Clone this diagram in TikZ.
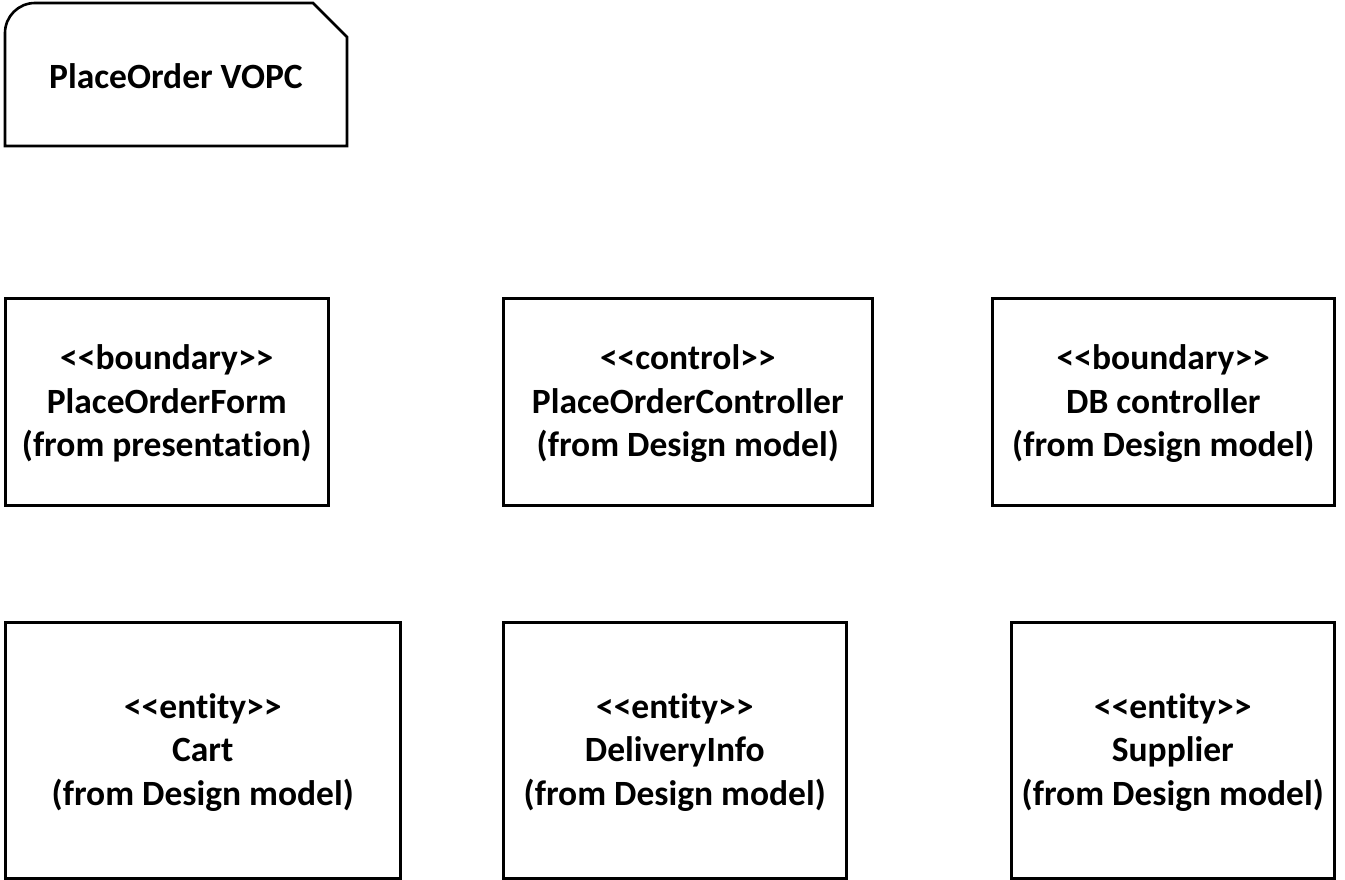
\documentclass[tikz,border=0pt]{standalone}
\usepackage{fontspec}
\setmainfont{Carlito}[RawFeature={-liga;-clig;-calt;-dlig;-rlig}]
\newcommand{\tii}{t\kern0pt i}
\begin{document}
\begin{tikzpicture}[x=1pt,y=-1pt,
  lw/.style={line width=2.6pt, draw=black},
  cls/.style={lw, rectangle, anchor=north west, inner sep=0pt},
  txt/.style={align=center, font=\fontsize{35.5}{43.5}\selectfont\bfseries, yshift=-2pt}]
\useasboundingbox (0,0) rectangle (1345,880);
% frame
\draw[lw] (5,146) -- (5,33) arc[start angle=180,end angle=270,radius=30] -- (313,3) -- (347,37) -- (347,146) -- cycle;
\node[txt] (title) at (176,74) {PlaceOrder VOPC};
% boxes
\node[cls, minimum width=323pt, minimum height=207pt] (form) at (4,297) {};
\node[txt] at (form.center) {<{}<boundary>{}>\\PlaceOrderForm\\(from presenta\tii on)};
\node[cls, minimum width=369pt, minimum height=207pt] (ctrl) at (502,297) {};
\node[txt] at (ctrl.center) {<{}<control>{}>\\PlaceOrderController\\(from Design model)};
\node[cls, minimum width=342pt, minimum height=207pt] (db) at (991,297) {};
\node[txt] at (db.center) {<{}<boundary>{}>\\DB controller\\(from Design model)};
\node[cls, minimum width=395pt, minimum height=256pt] (cart) at (4,621) {};
\node[txt] at (cart.center) {<{}<en\tii ty>{}>\\Cart\\(from Design model)};
\node[cls, minimum width=343pt, minimum height=256pt] (deliv) at (502,621) {};
\node[txt] at (deliv.center) {<{}<en\tii ty>{}>\\DeliveryInfo\\(from Design model)};
\node[cls, minimum width=323pt, minimum height=256pt] (supp) at (1010,621) {};
\node[txt] at (supp.center) {<{}<en\tii ty>{}>\\Supplier\\(from Design model)};
\end{tikzpicture}
\end{document}
